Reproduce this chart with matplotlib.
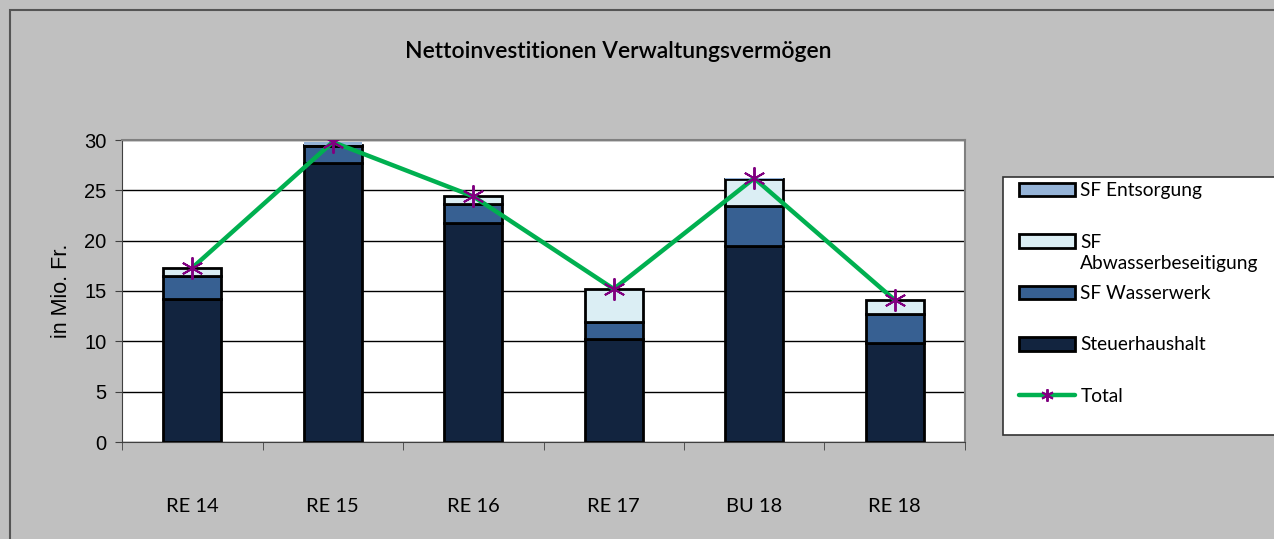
import matplotlib.pyplot as plt
import numpy as np
from matplotlib.patches import Rectangle

plt.rcParams['font.family'] = ['Lato', 'DejaVu Sans']
ARIAL = ['Liberation Sans', 'DejaVu Sans']

# Data
categories = ['RE 14', 'RE 15', 'RE 16', 'RE 17', 'BU 18', 'RE 18']
steuerhaushalt = [14.2, 27.7, 21.8, 10.2, 19.5, 9.8]
sf_wasserwerk = [2.3, 1.7, 1.8, 1.7, 3.9, 2.9]
sf_abwasser = [0.8, 0.1, 0.8, 3.3, 2.7, 1.4]
sf_entsorgung = [0.0, 0.3, 0.0, 0.0, 0.1, 0.0]
total = [a + b + c + d for a, b, c, d in zip(steuerhaushalt, sf_wasserwerk, sf_abwasser, sf_entsorgung)]

colors = {'steuer': '#12243f', 'wasser': '#376092', 'abwasser': '#dbeef4', 'entsorgung': '#95b3d7'}

W, H = 1274, 539
fig = plt.figure(figsize=(W / 100, H / 100), dpi=100)
fig.patch.set_facecolor('#c0c0c0')
# chart area border
fig.patches.append(Rectangle((10 / W, -0.05), 1.2, (H - 10) / H + 0.05,
                             transform=fig.transFigure, fill=False,
                             edgecolor='#555555', linewidth=1.5))
# legend box
fig.patches.append(Rectangle((1003 / W, 1 - 435 / H), 0.3, (435 - 177) / H,
                             transform=fig.transFigure, facecolor='white',
                             edgecolor='#333333', linewidth=1.2))

ax = fig.add_axes([122 / W, 97 / H, 843 / W, 302 / H])
ax.set_facecolor('white')

x = np.arange(len(categories))
w = 0.41
bottom = np.zeros(len(categories))
h_steuer = ax.bar(x, steuerhaushalt, w, bottom=bottom, color=colors['steuer'], edgecolor='black', linewidth=2, zorder=3)
bottom += steuerhaushalt
h_wasser = ax.bar(x, sf_wasserwerk, w, bottom=bottom, color=colors['wasser'], edgecolor='black', linewidth=2, zorder=3)
bottom += sf_wasserwerk
h_abw = ax.bar(x, sf_abwasser, w, bottom=bottom, color=colors['abwasser'], edgecolor='black', linewidth=2, zorder=3)
bottom += sf_abwasser
h_ents = ax.bar(x, sf_entsorgung, w, bottom=bottom, color=colors['entsorgung'], edgecolor='black', linewidth=0, zorder=3)

h_total, = ax.plot(x, total, color='#00b050', linewidth=3.2, marker=(6, 2, 0), markersize=16,
                   markeredgecolor='#800080', markeredgewidth=1.4, zorder=4, solid_capstyle='round')

ax.set_xlim(-0.5, len(categories) - 0.5)
ax.set_ylim(0, 30)
ax.set_yticks(range(0, 31, 5))
ax.grid(axis='y', color='black', linewidth=1, zorder=0)
ax.set_axisbelow(True)

ax.set_xticks(x)
ax.set_xticklabels(categories, fontsize=14.5)
ax.set_xticks(np.arange(-0.5, len(categories)), minor=True)
ax.tick_params(axis='x', which='major', length=0, pad=40)
ax.tick_params(axis='x', which='minor', length=6, direction='out', color='#404040')
ax.tick_params(axis='y', labelsize=14.5, length=5, direction='out', color='#404040', pad=6)
for t in ax.get_yticklabels():
    t.set_family(ARIAL)

for s in ['top', 'right']:
    ax.spines[s].set_color('#808080')
    ax.spines[s].set_linewidth(1.5)
ax.spines['left'].set_color('#404040')
ax.spines['bottom'].set_color('#404040')

ax.set_ylabel('in Mio. Fr.', fontsize=15.5, labelpad=9, family=ARIAL)

fig.text(618 / W, 1 - 52 / H, 'Nettoinvestitionen Verwaltungsvermögen', fontsize=16.5,
         fontweight='semibold', ha='center', va='center')

leg = fig.legend([h_ents, h_abw, h_wasser, h_steuer, h_total],
                 ['SF Entsorgung', 'SF', 'SF Wasserwerk', 'Steuerhaushalt', 'Total'],
                 loc='upper left', bbox_to_anchor=(1019 / W, 1 - 182 / H), fontsize=13.8,
                 frameon=False, borderaxespad=0, borderpad=0,
                 handlelength=2.9, handleheight=0.7, handletextpad=0.3, labelspacing=1.8)
leg.legend_handles[0].set_edgecolor('black')
leg.legend_handles[0].set_linewidth(2)
leg.legend_handles[4].set_markersize(9)

# second line of the wrapped label, placed under "SF"
fig.canvas.draw()
bb = leg.get_texts()[1].get_window_extent().transformed(fig.transFigure.inverted())
fig.text(bb.x0, bb.y0 - 5 / H, 'Abwasserbeseitigung', fontsize=13.8, ha='left', va='top', zorder=6)

fig.savefig('out.png', dpi=100, facecolor=fig.get_facecolor())
